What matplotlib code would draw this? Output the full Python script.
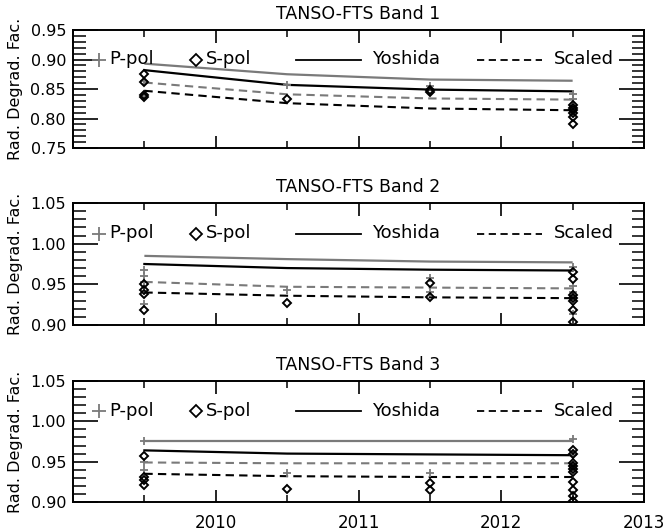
import matplotlib
matplotlib.use("Agg")
import matplotlib.pyplot as plt
from matplotlib.ticker import MultipleLocator, FixedLocator, FuncFormatter

# ---------------- data ----------------
line_years = [2009.5, 2010.5, 2011.5, 2012.5]

titles = ["TANSO-FTS Band 1", "TANSO-FTS Band 2", "TANSO-FTS Band 3"]
ylims = [(0.75, 0.95), (0.90, 1.05), (0.90, 1.05)]

yoshida_p = [[0.893, 0.875, 0.866, 0.864],
             [0.985, 0.981, 0.978, 0.977],
             [0.976, 0.976, 0.976, 0.976]]
yoshida_s = [[0.882, 0.857, 0.849, 0.846],
             [0.975, 0.970, 0.968, 0.967],
             [0.964, 0.960, 0.959, 0.958]]
scaled_p = [[0.861, 0.841, 0.834, 0.832],
            [0.953, 0.947, 0.946, 0.945],
            [0.949, 0.948, 0.948, 0.948]]
scaled_s = [[0.847, 0.826, 0.817, 0.814],
            [0.940, 0.936, 0.934, 0.933],
            [0.935, 0.932, 0.931, 0.931]]

ppol_x = [[2009.5, 2009.5, 2010.5, 2011.5, 2012.5, 2012.5],
          [2009.5, 2009.5, 2009.5, 2009.5, 2010.5, 2011.5, 2011.5,
           2012.5, 2012.5, 2012.5, 2012.5],
          [2009.5, 2009.5, 2009.5, 2010.5, 2011.5, 2012.5, 2012.5, 2012.5]]
ppol_y = [[0.864, 0.840, 0.857, 0.855, 0.841, 0.833],
          [0.968, 0.960, 0.953, 0.926, 0.943, 0.958, 0.940,
           0.971, 0.948, 0.940, 0.913],
          [0.976, 0.949, 0.940, 0.936, 0.936, 0.978, 0.958, 0.946]]

spol_x = [[2009.5, 2009.5, 2009.5, 2009.5, 2010.5, 2011.5, 2011.5,
           2012.5, 2012.5, 2012.5, 2012.5, 2012.5, 2012.5],
          [2009.5, 2009.5, 2009.5, 2009.5, 2010.5, 2011.5, 2011.5,
           2012.5, 2012.5, 2012.5, 2012.5, 2012.5, 2012.5, 2012.5],
          [2009.5, 2009.5, 2009.5, 2009.5, 2010.5, 2011.5, 2011.5,
           2012.5, 2012.5, 2012.5, 2012.5, 2012.5, 2012.5, 2012.5,
           2012.5, 2012.5, 2012.5]]
spol_y = [[0.876, 0.862, 0.840, 0.837, 0.833, 0.848, 0.845,
           0.823, 0.818, 0.814, 0.809, 0.802, 0.791],
          [0.951, 0.943, 0.938, 0.918, 0.927, 0.952, 0.934,
           0.965, 0.957, 0.937, 0.933, 0.930, 0.918, 0.904],
          [0.957, 0.931, 0.927, 0.921, 0.916, 0.924, 0.915,
           0.965, 0.960, 0.948, 0.945, 0.941, 0.937, 0.925,
           0.915, 0.908, 0.901]]

year_ticks = [2009, 2010, 2011, 2012, 2013]
legend_labels = ["P-pol", "S-pol", "Yoshida", "Scaled"]

# ---------------- style ----------------
GRAY = "#7a7a7a"
FS = 12
plt.rcParams["font.family"] = ["DejaVu Sans"]

fig = plt.figure(figsize=(6.65, 5.31), dpi=100)
W, H = 665.0, 531.0
left, right = 73, 644
boxes = [(30, 148), (203, 325), (381, 502)]

for i in range(3):
    top, bot = boxes[i]
    ax = fig.add_axes([left / W, 1 - bot / H, (right - left) / W, (bot - top) / H])

    ax.plot(line_years, yoshida_p[i], color=GRAY, lw=1.6, solid_capstyle="butt")
    ax.plot(line_years, yoshida_s[i], color="black", lw=1.6)
    ax.plot(line_years, scaled_p[i], color=GRAY, lw=1.5, dashes=(4, 2.5))
    ax.plot(line_years, scaled_s[i], color="black", lw=1.5, dashes=(4, 2.5))
    ax.plot(ppol_x[i], ppol_y[i], ls="none", marker="+", color=GRAY,
            ms=6, mew=1.3)
    ax.plot(spol_x[i], spol_y[i], ls="none", marker="D", mfc="none",
            mec="black", ms=4.2, mew=1.4)

    ax.set_xlim(year_ticks[0], year_ticks[-1])
    ax.set_ylim(*ylims[i])
    ax.xaxis.set_major_locator(FixedLocator(year_ticks))
    ax.xaxis.set_minor_locator(MultipleLocator(0.5))
    ax.yaxis.set_major_locator(MultipleLocator(0.05))
    ax.yaxis.set_minor_locator(MultipleLocator(0.01))
    ax.yaxis.set_major_formatter(FuncFormatter(lambda v, p: "%.2f" % v))
    if i == 2:
        ax.xaxis.set_major_formatter(
            FuncFormatter(lambda v, p: "" if v < 2009.9 else "%d" % round(v)))
    else:
        ax.xaxis.set_major_formatter(FuncFormatter(lambda v, p: ""))

    ax.tick_params(axis="y", which="major", direction="in", length=18,
                   width=1.2, left=True, right=True, labelsize=FS - 0.5, pad=5)
    ax.tick_params(axis="y", which="minor", direction="in", length=9,
                   width=1.1, left=True, right=True)
    ax.tick_params(axis="x", which="major", direction="in", length=9,
                   width=1.2, top=True, bottom=True, labelsize=FS, pad=9)
    ax.tick_params(axis="x", which="minor", direction="in", length=5,
                   width=1.1, top=True, bottom=True)
    for s in ax.spines.values():
        s.set_linewidth(1.4)

    ax.set_title(titles[i], fontsize=FS + 0.5, pad=8)
    ax.set_ylabel("Rad. Degrad. Fac.", fontsize=FS - 0.5)
    ax.yaxis.set_label_coords(-0.088, 0.5)

    # legend drawn in axes coordinates
    ly = 0.75
    lfs = FS + 1
    tr = ax.transAxes
    ax.plot([0.046], [ly], transform=tr, marker="+", color=GRAY, ms=10,
            mew=1.3, clip_on=False)
    ax.text(0.063, ly, legend_labels[0], transform=tr, fontsize=lfs,
            va="center", ha="left")
    ax.plot([0.215], [ly], transform=tr, marker="D", mfc="none", mec="black",
            ms=6.5, mew=1.3, clip_on=False)
    ax.text(0.232, ly, legend_labels[1], transform=tr, fontsize=lfs,
            va="center", ha="left")
    ax.plot([0.391, 0.504], [ly, ly], transform=tr, color="black", lw=1.3)
    ax.text(0.523, ly, legend_labels[2], transform=tr, fontsize=lfs,
            va="center", ha="left")
    ax.plot([0.707, 0.822], [ly, ly], transform=tr, color="black", lw=1.3,
            dashes=(4, 2.5))
    ax.text(0.842, ly, legend_labels[3], transform=tr, fontsize=lfs,
            va="center", ha="left")

fig.savefig("out.png", dpi=100)
